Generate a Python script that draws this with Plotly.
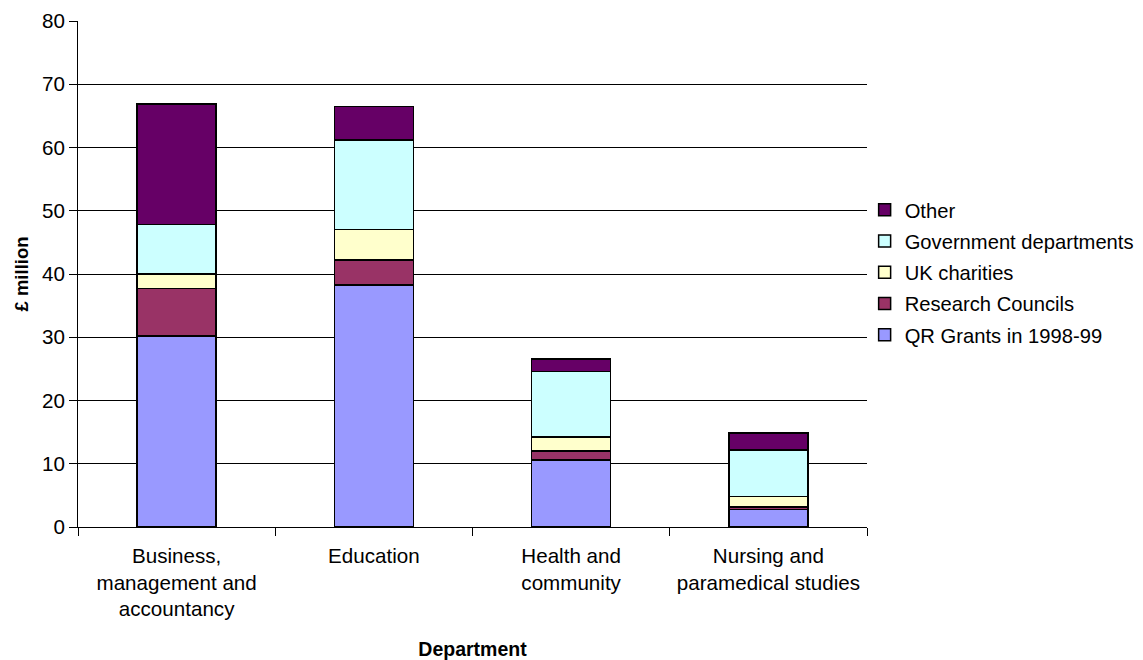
import plotly.graph_objects as go

categories = ["Business,<br>management and<br>accountancy", "Education",
              "Health and<br>community", "Nursing and<br>paramedical studies"]
qr_grants = [30.2, 38.3, 10.6, 2.8]
research_councils = [7.5, 3.9, 1.4, 0.4]
uk_charities = [2.3, 4.8, 2.2, 1.6]
gov_departments = [7.8, 14.2, 10.4, 7.4]
other = [19.1, 5.3, 2.0, 2.7]

series = [
    ("QR Grants in 1998-99", qr_grants, "#9999FF"),
    ("Research Councils", research_councils, "#993366"),
    ("UK charities", uk_charities, "#FFFFCC"),
    ("Government departments", gov_departments, "#CCFFFF"),
    ("Other", other, "#660066"),
]

FONT = "Liberation Sans, Arial, sans-serif"

fig = go.Figure()
n = len(series)
for i, (name, vals, col) in enumerate(series):
    fig.add_trace(go.Bar(
        x=categories, y=vals, name=name, legendgroup=str(i),
        legendrank=100 * (n - i),
        marker=dict(color=col, line=dict(color="black", width=1.5)),
    ))

fig.update_layout(
    width=1143, height=660,
    margin=dict(l=78, r=276, t=21, b=133, autoexpand=False),
    barmode="stack", bargap=0.6,
    plot_bgcolor="white", paper_bgcolor="white",
    font=dict(family=FONT, size=20.6, color="black"),
    showlegend=True,
    legend=dict(
        x=0.997, xanchor="left", y=0.666, yanchor="top",
        traceorder="grouped", tracegroupgap=2,
        font=dict(family=FONT, size=20.2, color="black"),
        bgcolor="rgba(0,0,0,0)",
    ),
    xaxis=dict(
        type="category", tickson="boundaries", ticks="outside", ticklen=8,
        tickcolor="black", showline=True, linecolor="black", linewidth=1,
        showgrid=False, ticklabelstandoff=10, tickangle=0, automargin=False,
        title=dict(text="<b>Department</b>", font=dict(size=19.5), standoff=25),
        tickfont=dict(size=20.6),
    ),
    yaxis=dict(
        range=[0, 80], dtick=10, ticks="outside", ticklen=8, tickcolor="black",
        showline=True, linecolor="black", linewidth=1, automargin=False,
        showgrid=True, gridcolor="black", gridwidth=1, zeroline=False,
        title=dict(text="<b>£ million</b>", font=dict(size=18.5), standoff=8),
        tickfont=dict(size=20.6),
    ),
)

fig.write_html("out.html")
